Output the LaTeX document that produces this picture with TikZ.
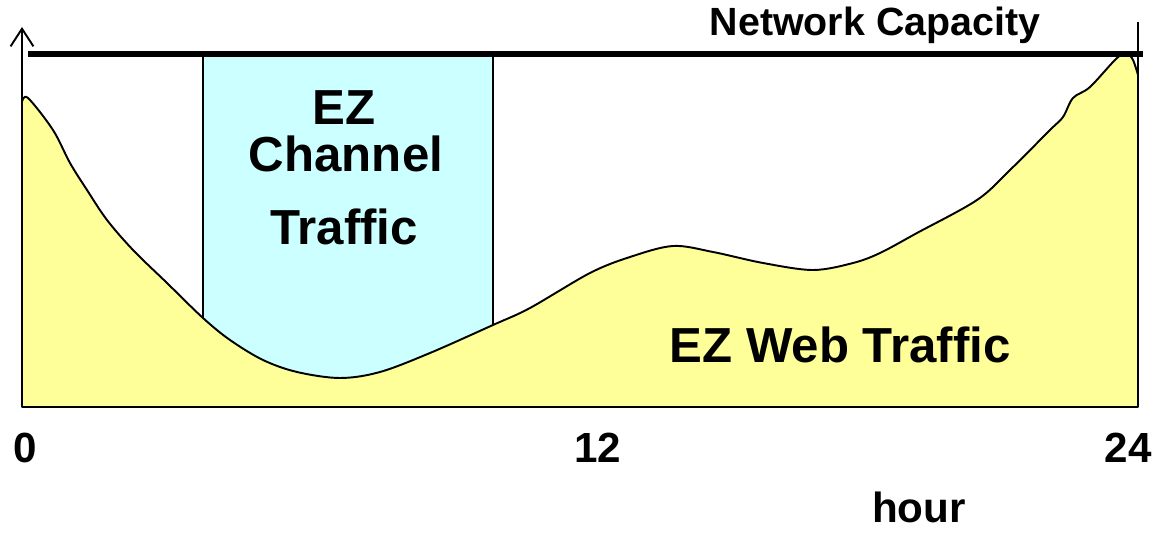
\documentclass[tikz,border=0pt]{standalone}
\usepackage{fontspec}
\setmainfont{Liberation Sans}
\usetikzlibrary{arrows.meta}

\definecolor{webyellow}{HTML}{FFFF99}
\definecolor{chancyan}{HTML}{CCFFFF}

\begin{document}
\begin{tikzpicture}[x=0.02cm,y=-0.02cm,
        lbl/.style={inner sep=0pt, anchor=base, font=\bfseries\fontsize{28}{30}\selectfont},
        tick/.style={inner sep=0pt, anchor=base, font=\bfseries\fontsize{24}{26}\selectfont},
        area/.style={draw=black, line width=1.1pt, line join=round}]
    \useasboundingbox (0,0) rectangle (1157,536);

    \coordinate (origin) at (22,407);
    \coordinate (ytop) at (22,27);
    \coordinate (capL) at (28,54);
    \coordinate (capR) at (1143,54);
    \coordinate (endtop) at (1138,22);
    \coordinate (endbot) at (1138,407);

    % channel slot (lower part hidden by the web traffic)
    \draw[area, fill=chancyan] (203,55) rectangle (493,400);

    % web traffic over the day
    \draw[area, fill=webyellow]
        (origin) -- plot[smooth, tension=0.55] coordinates {
            (22,102) (28,98) (53,130) (70,163) (87,190) (107,220) (133,250)
            (167,283) (203,318) (230,340) (263,360) (297,372) (340,378)
            (380,372) (430,353) (493,325) (530,308) (590,273) (630,257)
            (673,246) (713,252) (763,263) (813,270) (853,263) (880,253)
            (917,233) (977,200) (1010,170) (1050,130) (1063,117) (1073,98)
            (1090,87) (1117,58) (1127,54) (1133,60) (1138,75)}
        -- (endbot) -- cycle;

    \draw[line width=1.1pt] (endbot) -- (endtop);
    \draw[line width=1.1pt, -{Straight Barb[length=10pt,width=13pt]}] (origin) -- (ytop);
    \draw[line width=2.9pt] (capL) -- (capR);

    \node[lbl, font=\bfseries\fontsize{22.4}{24}\selectfont] (cap) at (875,36) {Network Capacity};
    \node[lbl] (chEZ) at (344,125) {EZ};
    \node[lbl] (chName) at (346,172) {Channel};
    \node[lbl] (chTraffic) at (344,245) {Traffic};
    \node[lbl] (web) at (840,363) {EZ Web Traffic};

    \foreach \x/\t in {25/0, 598/12, 1128/24}
        \node[tick] (h\t) at (\x,463) {\t};
    \node[tick] (hour) at (919,523) {hour};
\end{tikzpicture}
\end{document}
